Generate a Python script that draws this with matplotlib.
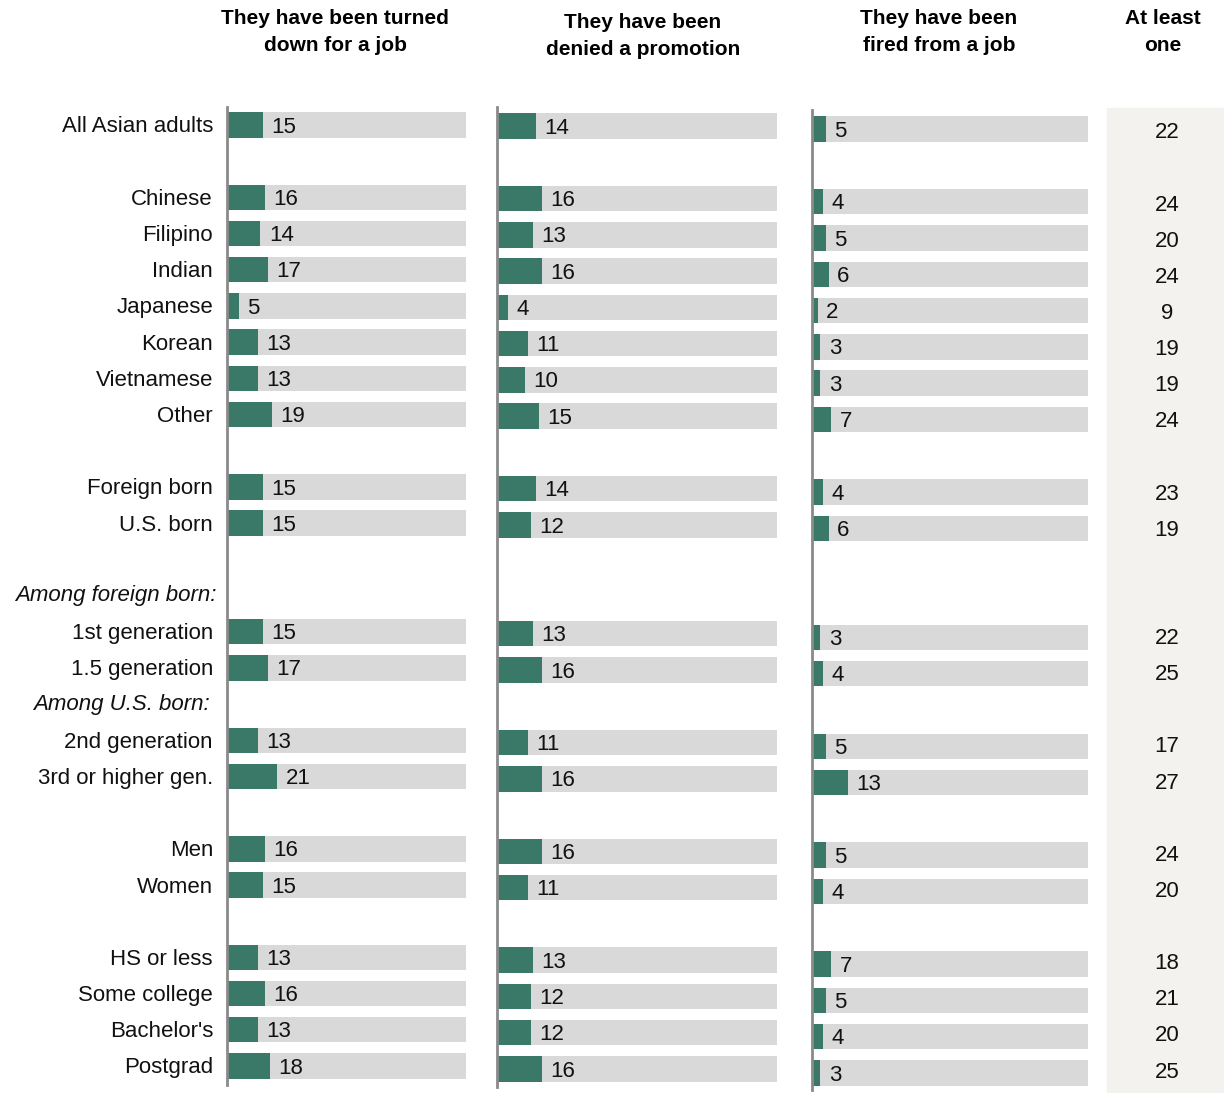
import matplotlib
matplotlib.use("Agg")
import matplotlib.pyplot as plt
from matplotlib.patches import Rectangle

# row labels and their slot on the y grid (gaps between groups)
labels = ["All Asian adults", "Chinese", "Filipino", "Indian", "Japanese", "Korean",
          "Vietnamese", "Other", "Foreign born", "U.S. born", "1st generation",
          "1.5 generation", "2nd generation", "3rd or higher gen.", "Men", "Women",
          "HS or less", "Some college", "Bachelor's", "Postgrad"]
rows = [0, 2, 3, 4, 5, 6, 7, 8, 10, 11, 14, 15, 17, 18, 20, 21, 23, 24, 25, 26]
subheads = ["Among foreign born:", "Among U.S. born:"]
subhead_rows = [13, 16]

turned_down = [15, 16, 14, 17, 5, 13, 13, 19, 15, 15, 15, 17, 13, 21, 16, 15, 13, 16, 13, 18]
denied_promo = [14, 16, 13, 16, 4, 11, 10, 15, 14, 12, 13, 16, 11, 16, 16, 11, 13, 12, 12, 16]
fired = [5, 4, 5, 6, 2, 3, 3, 7, 4, 6, 3, 4, 5, 13, 5, 4, 7, 5, 4, 3]
at_least_one = [22, 24, 20, 24, 9, 19, 19, 24, 23, 19, 22, 25, 17, 27, 24, 20, 18, 21, 20, 25]

titles = ["They have been turned\ndown for a job", "They have been\ndenied a promotion",
          "They have been\nfired from a job"]

GREEN = "#3a7867"
GREY = "#d9d9d9"
BODY = ["Liberation Sans", "DejaVu Sans"]
HEAD = ["Liberation Sans Narrow", "Liberation Sans", "DejaVu Sans"]

W, H = 1224, 1093
fig = plt.figure(figsize=(W / 100, H / 100), dpi=100)

# panel geometry in pixels: left, right, first row y, last row y, line top, line bottom,
# title centre x, title y
panels = [
    (227, 466, 125, 1066, 107, 1085, 335, 32),
    (497, 777, 126, 1069, 107, 1087, 643, 36),
    (812, 1088, 129, 1073, 110, 1090, 939, 32),
]

def make_ax(left, right, y0, y1, top, bottom):
    step = (y1 - y0) / 26.0
    ax = fig.add_axes([left / W, 1 - bottom / H, (right - left) / W, (bottom - top) / H])
    ax.set_xlim(0, 100)
    ax.set_ylim((bottom - y0) / step, (top - y0) / step)
    for s in ["top", "right", "bottom"]:
        ax.spines[s].set_visible(False)
    ax.spines["left"].set_color("#8a8a8a")
    ax.spines["left"].set_linewidth(2)
    ax.set_xticks([])
    ax.set_yticks([])
    ax.patch.set_alpha(0)
    return ax

for i, (vals, title) in enumerate(zip([turned_down, denied_promo, fired], titles)):
    left, right, y0, y1, top, bottom, tx, ty = panels[i]
    ax = make_ax(left, right, y0, y1, top, bottom)
    ax.barh(rows, [100] * len(rows), height=0.7, color=GREY, zorder=1)
    ax.barh(rows, vals, height=0.7, color=GREEN, zorder=2)
    for r, v in zip(rows, vals):
        ax.annotate(str(v), (v, r), xytext=(6, -1.5), textcoords="offset points",
                    va="center", ha="left", fontsize=16, family=BODY, color="#111111")
    fig.text(tx / W, 1 - ty / H, title, ha="center", va="center",
             fontsize=15, fontweight="bold", family=HEAD, linespacing=1.5)

# row labels on the left
step = (1066 - 125) / 26.0
for lab, r in zip(labels, rows):
    fig.text(213 / W, 1 - (127 + r * step) / H, lab, ha="right", va="center",
             fontsize=16, family=BODY, color="#111111")
for lab, r, x in zip(subheads, subhead_rows, [216, 210]):
    fig.text(x / W, 1 - (125 + r * step) / H, lab, ha="right", va="center",
             fontsize=16, family=BODY, style="italic", color="#111111")

# "At least one" column with shaded background
fig.patches.append(Rectangle((1107 / W, 0), (W - 1107) / W, 1 - 108 / H,
                             transform=fig.transFigure, color="#f3f2ee", zorder=0))
fig.text(1163 / W, 1 - 32 / H, "At least\none", ha="center", va="center",
         fontsize=15, fontweight="bold", family=HEAD, linespacing=1.5)
step4 = (1070 - 131) / 26.0
for v, r in zip(at_least_one, rows):
    fig.text(1167 / W, 1 - (133 + r * step4) / H, str(v), ha="center", va="center",
             fontsize=16, family=BODY, color="#111111")

fig.savefig("out.png", dpi=100)
